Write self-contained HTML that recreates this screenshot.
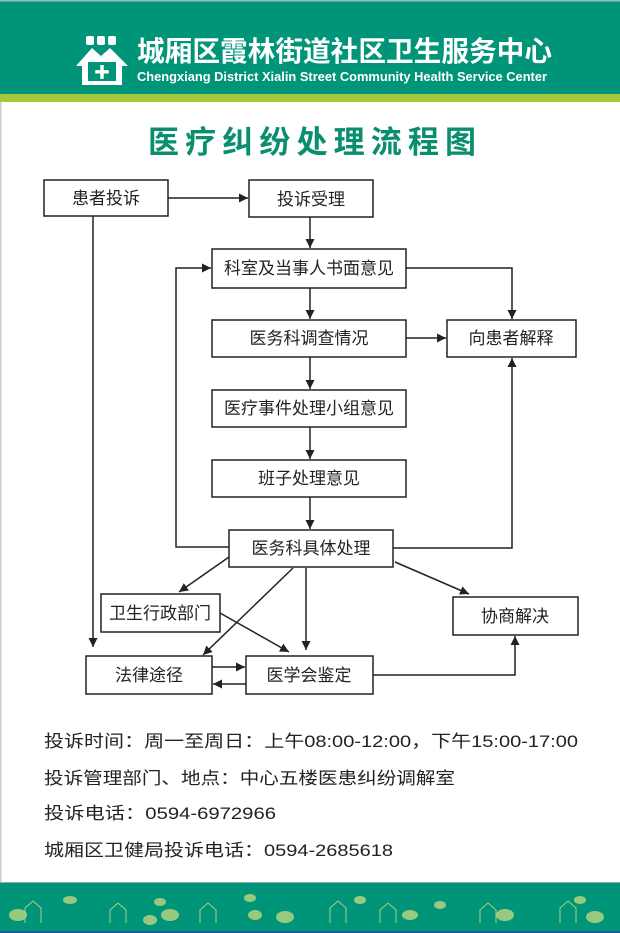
<!DOCTYPE html>
<html><head><meta charset="utf-8"><style>
html,body{margin:0;padding:0;background:#fff}
svg{display:block}
text{font-family:"Liberation Sans","Noto Sans CJK SC",sans-serif}
</style></head><body>
<svg width="620" height="933" viewBox="0 0 620 933" xmlns="http://www.w3.org/2000/svg">
<defs>
<marker id="a" viewBox="0 0 10 10" refX="10" refY="5" markerWidth="9" markerHeight="9" orient="auto" markerUnits="userSpaceOnUse"><path d="M0,0 L10,5 L0,10 z" fill="#222"/></marker>
</defs>
<rect x="0" y="0" width="620" height="933" fill="#fff"/>
<rect x="0" y="0" width="1.5" height="933" fill="#ccc"/>
<!-- header -->
<rect x="0" y="0" width="620" height="94" fill="#009478"/>
<rect x="0" y="0" width="620" height="1.5" fill="#9bb"/>
<rect x="0" y="94" width="620" height="8" fill="#a3c83a"/>
<!-- logo -->
<g fill="#fff">
<rect x="86" y="36" width="8" height="9" rx="2"/><rect x="97" y="36" width="8" height="9" rx="2"/><rect x="108" y="36" width="8" height="9" rx="2"/>
<path d="M76,66 L92,48 L101,56 L110,48 L128,66 L122,66 L122,85 L82,85 L82,66 Z"/>
</g>
<rect x="88" y="62" width="28" height="19" fill="#009478"/>
<text x="102" y="78" fill="#fff" font-size="16" text-anchor="middle" font-weight="bold">✚</text>
<text x="137" y="61" fill="#fff" font-size="28" font-weight="bold" textLength="415" lengthAdjust="spacingAndGlyphs">城厢区霞林街道社区卫生服务中心</text>
<text x="137" y="81" fill="#fff" font-size="13" font-weight="bold" textLength="410" lengthAdjust="spacingAndGlyphs">Chengxiang District Xialin Street Community Health Service Center</text>
<!-- title -->
<text x="148" y="153" fill="#0a8f6e" font-size="31" font-weight="bold" textLength="328" lengthAdjust="spacing">医疗纠纷处理流程图</text>
<!-- boxes -->
<g fill="#fff" stroke="#222" stroke-width="1.5">
<rect x="44" y="180" width="124" height="36"/>
<rect x="249" y="180" width="124" height="37"/>
<rect x="212" y="249" width="194" height="39"/>
<rect x="212" y="320" width="194" height="37"/>
<rect x="447" y="320" width="129" height="37"/>
<rect x="212" y="390" width="194" height="37"/>
<rect x="212" y="460" width="194" height="37"/>
<rect x="229" y="530" width="164" height="37"/>
<rect x="101" y="594" width="119" height="38"/>
<rect x="453" y="597" width="125" height="38"/>
<rect x="86" y="656" width="126" height="38"/>
<rect x="246" y="656" width="127" height="38"/>
</g>
<g font-size="17" fill="#222" text-anchor="middle">
<text x="106" y="204">患者投诉</text>
<text x="311" y="205">投诉受理</text>
<text x="309" y="274">科室及当事人书面意见</text>
<text x="309" y="344">医务科调查情况</text>
<text x="511" y="344">向患者解释</text>
<text x="309" y="414">医疗事件处理小组意见</text>
<text x="309" y="484">班子处理意见</text>
<text x="311" y="554">医务科具体处理</text>
<text x="160" y="619">卫生行政部门</text>
<text x="515" y="622">协商解决</text>
<text x="149" y="681">法律途径</text>
<text x="309" y="681">医学会鉴定</text>
</g>
<!-- connectors -->
<g stroke="#222" stroke-width="1.5" fill="none">
<line x1="168" y1="198" x2="248" y2="198" marker-end="url(#a)"/>
<line x1="93" y1="216" x2="93" y2="647" marker-end="url(#a)"/>
<line x1="310" y1="217" x2="310" y2="248" marker-end="url(#a)"/>
<line x1="310" y1="288" x2="310" y2="319" marker-end="url(#a)"/>
<polyline points="406,268 512,268 512,319" marker-end="url(#a)"/>
<line x1="406" y1="338" x2="446" y2="338" marker-end="url(#a)"/>
<line x1="310" y1="357" x2="310" y2="389" marker-end="url(#a)"/>
<line x1="310" y1="427" x2="310" y2="459" marker-end="url(#a)"/>
<line x1="310" y1="497" x2="310" y2="529" marker-end="url(#a)"/>
<polyline points="229,547 176,547 176,268 211,268" marker-end="url(#a)"/>
<polyline points="393,548 512,548 512,358" marker-end="url(#a)"/>
<line x1="229" y1="557" x2="179" y2="592" marker-end="url(#a)"/>
<line x1="293" y1="568" x2="203" y2="655" marker-end="url(#a)"/>
<line x1="306" y1="568" x2="306" y2="650" marker-end="url(#a)"/>
<line x1="395" y1="562" x2="469" y2="594" marker-end="url(#a)"/>
<line x1="220" y1="613" x2="289" y2="652" marker-end="url(#a)"/>
<line x1="212" y1="667" x2="245" y2="667" marker-end="url(#a)"/>
<line x1="246" y1="684" x2="213" y2="684" marker-end="url(#a)"/>
<polyline points="373,675 515,675 515,636" marker-end="url(#a)"/>
</g>
<!-- info -->
<g font-size="17" fill="#222">
<text x="44" y="747" textLength="534" lengthAdjust="spacingAndGlyphs">投诉时间：周一至周日：上午08:00-12:00，下午15:00-17:00</text>
<text x="44" y="784" textLength="411" lengthAdjust="spacingAndGlyphs">投诉管理部门、地点：中心五楼医患纠纷调解室</text>
<text x="44" y="819" textLength="232" lengthAdjust="spacingAndGlyphs">投诉电话：0594-6972966</text>
<text x="44" y="856" textLength="349" lengthAdjust="spacingAndGlyphs">城厢区卫健局投诉电话：0594-2685618</text>
</g>
<!-- footer -->
<rect x="0" y="882" width="620" height="51" fill="#009478"/>
<rect x="0" y="882" width="620" height="1" fill="#9ab"/>
<rect x="0" y="931" width="620" height="2" fill="#1a5a9a"/>
<g fill="#a8d080" opacity="0.9">
<ellipse cx="18" cy="915" rx="9" ry="6"/><ellipse cx="70" cy="900" rx="7" ry="4"/><ellipse cx="160" cy="902" rx="6" ry="4"/><ellipse cx="150" cy="920" rx="7" ry="5"/>
<ellipse cx="170" cy="915" rx="9" ry="6"/><ellipse cx="255" cy="915" rx="7" ry="5"/><ellipse cx="250" cy="898" rx="6" ry="4"/>
<ellipse cx="285" cy="917" rx="9" ry="6"/><ellipse cx="360" cy="900" rx="6" ry="4"/><ellipse cx="410" cy="915" rx="8" ry="5"/>
<ellipse cx="440" cy="905" rx="6" ry="4"/><ellipse cx="505" cy="915" rx="9" ry="6"/><ellipse cx="580" cy="900" rx="6" ry="4"/><ellipse cx="595" cy="917" rx="9" ry="6"/>
</g>
<g fill="none" stroke="#a8d080" stroke-width="1">
<path d="M25,923 L25,908 L33,901 L41,908 L41,923"/><path d="M110,923 L110,910 L118,903 L126,910 L126,923"/>
<path d="M200,923 L200,910 L208,903 L216,910 L216,923"/><path d="M330,923 L330,908 L338,901 L346,908 L346,923"/>
<path d="M380,923 L380,910 L388,903 L396,910 L396,923"/><path d="M480,923 L480,910 L488,903 L496,910 L496,923"/>
<path d="M560,923 L560,908 L568,901 L576,908 L576,923"/>
</g>
</svg>
</body></html>
